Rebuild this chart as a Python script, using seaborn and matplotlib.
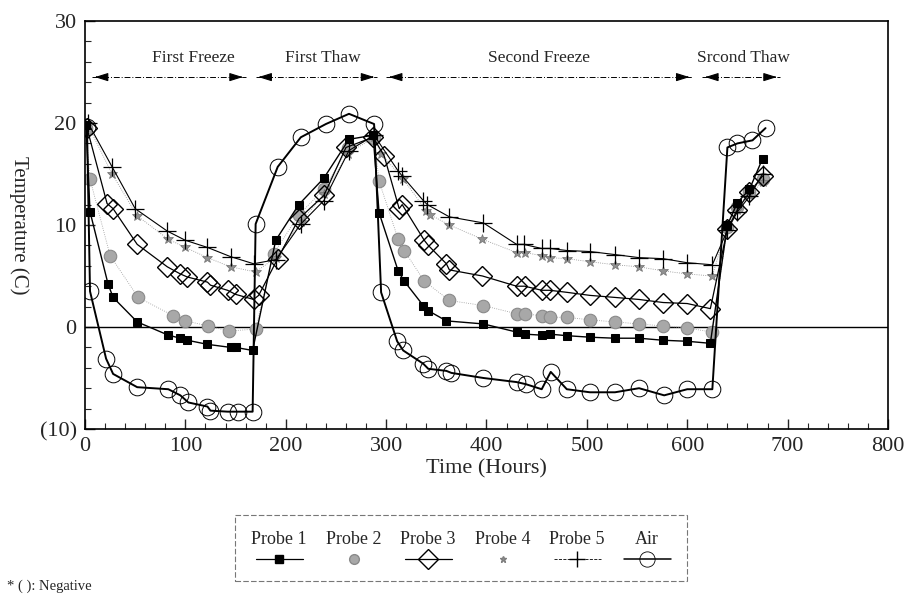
import numpy as np
import pandas as pd
import matplotlib
matplotlib.use("Agg")
import matplotlib.pyplot as plt
import seaborn as sns
from matplotlib.lines import Line2D
from matplotlib.offsetbox import VPacker
from matplotlib.ticker import MultipleLocator, FuncFormatter

# ---------------- data ----------------
probe1_x = [1, 5, 23, 28, 52, 83, 95, 102, 122, 145, 150, 167, 190, 213, 238, 263, 287, 293, 312, 318, 337, 342, 360, 397,
            430, 438, 455, 463, 480, 503, 528, 552, 576, 600, 623, 640, 650, 662, 675]
probe1_y = [19.8, 11.3, 4.2, 2.9, 0.5, -0.8, -1.1, -1.3, -1.7, -2.0, -2.0, -2.3, 8.5, 12.0, 14.6, 18.4, 18.8, 11.2, 5.5, 4.5, 2.1, 1.6, 0.6, 0.3,
            -0.5, -0.7, -0.8, -0.7, -0.85, -1.0, -1.1, -1.1, -1.3, -1.4, -1.6, 10.0, 12.2, 13.5, 16.5]

probe2_x = [1, 5, 25, 53, 88, 100, 123, 143, 170, 188, 213, 238, 262, 288, 293, 312, 318, 338, 363, 397,
            430, 438, 455, 463, 480, 503, 528, 552, 576, 600, 625, 640, 650, 662, 675]
probe2_y = [19.5, 14.5, 7.0, 2.9, 1.1, 0.6, 0.1, -0.4, -0.2, 7.2, 11.0, 13.5, 17.5, 18.5, 14.3, 8.6, 7.5, 4.5, 2.6, 2.1,
            1.3, 1.3, 1.1, 0.95, 0.95, 0.7, 0.5, 0.3, 0.1, -0.1, -0.5, 9.8, 11.8, 13.2, 14.5]

probe3_x = [2, 22, 28, 52, 82, 95, 102, 122, 125, 142, 150, 168, 173, 192, 213, 238, 260, 287, 298, 313, 316, 338, 342,
            360, 363, 396, 430, 438, 455, 463, 480, 503, 528, 552, 576, 600, 623, 640, 650, 662, 675]
probe3_y = [19.5, 12.1, 11.6, 8.1, 5.9, 5.2, 4.9, 4.4, 4.1, 3.6, 3.2, 2.7, 3.1, 6.7, 10.6, 12.9, 17.6, 18.6, 16.8, 11.6, 12.0, 8.5, 8.0,
            6.2, 5.6, 5.0, 4.0, 4.0, 3.6, 3.6, 3.4, 3.1, 2.9, 2.7, 2.4, 2.3, 1.8, 9.6, 11.5, 13.2, 14.8]

probe4_x = [3, 27, 52, 83, 100, 122, 145, 170, 190, 215, 238, 262, 288, 295, 317, 340, 344, 363, 396,
            430, 438, 455, 463, 480, 503, 528, 552, 576, 600, 625, 640, 650, 662, 675]
probe4_y = [19.8, 15.0, 10.9, 8.6, 7.8, 6.8, 5.9, 5.4, 6.8, 10.3, 13.0, 17.0, 18.6, 17.0, 14.5, 11.4, 11.0, 10.0, 8.6,
            7.3, 7.3, 7.0, 6.8, 6.7, 6.4, 6.1, 5.9, 5.5, 5.2, 5.0, 10.0, 11.5, 13.0, 14.2]

probe5_x = [3, 27, 50, 82, 100, 122, 145, 168, 190, 215, 238, 263, 288, 312, 316, 337, 341, 363, 397,
            430, 437, 455, 463, 480, 503, 528, 552, 576, 600, 625, 640, 650, 662, 675]
probe5_y = [20.0, 15.7, 11.6, 9.4, 8.5, 7.8, 6.9, 6.2, 6.6, 10.1, 12.4, 17.3, 18.8, 15.3, 14.8, 12.4, 12.0, 10.8, 10.2,
            8.1, 8.1, 7.7, 7.7, 7.5, 7.4, 7.1, 6.8, 6.7, 6.3, 6.1, 9.5, 11.3, 12.8, 15.0]

air_x = [2, 5, 21, 28, 52, 83, 95, 103, 122, 125, 142, 152, 167, 170, 192, 215, 240, 263, 288, 295, 311, 317, 337, 342,
         360, 365, 397, 430, 439, 455, 464, 480, 503, 528, 552, 577, 600, 625, 640, 650, 665, 678]
air_y = [19.6, 3.5, -3.1, -4.6, -5.9, -6.1, -6.7, -7.4, -7.8, -8.2, -8.3, -8.3, -8.3, 10.1, 15.7, 18.6, 19.9, 20.9, 19.9, 3.4, -1.4, -2.3, -3.6, -4.1,
         -4.3, -4.5, -5.0, -5.4, -5.6, -6.1, -4.4, -6.1, -6.4, -6.4, -6.0, -6.7, -6.1, -6.1, 17.6, 18.0, 18.3, 19.5]

series_names = ["Probe 1", "Probe 2", "Probe 3", "Probe 4", "Probe 5", "Air"]

phase_labels = ["First Freeze", "First Thaw", "Second Freeze", "Srcond Thaw"]
phase_start = [7, 170, 300, 615]
phase_end = [160, 291, 605, 692]
phase_text_x = [108, 237, 452, 656]

x_ticks = [0, 100, 200, 300, 400, 500, 600, 700, 800]
y_ticks = [-10, 0, 10, 20, 30]

# ---------------- figure ----------------
sns.set_style("ticks")
plt.rcParams["font.family"] = ["Liberation Serif", "DejaVu Serif"]
plt.rcParams["mathtext.fontset"] = "stix"

W, H = 909, 603
fig = plt.figure(figsize=(W / 100, H / 100), dpi=100)
ax = fig.add_axes([85 / W, 1 - 429 / H, (888 - 85) / W, (429 - 21) / H])

def frame(x, y, name):
    return pd.DataFrame({"x": x, "y": y, "s": name})

styles = {
    "Probe 1": dict(color="black", marker="s", markersize=5.5, linewidth=1.0, linestyle="-",
                    markerfacecolor="black", markeredgecolor="black"),
    "Probe 2": dict(color="#9a9a9a", marker="o", markersize=9, linewidth=0.6, linestyle=":",
                    markerfacecolor="#a8a8a8", markeredgecolor="#8a8a8a", markeredgewidth=0.8),
    "Probe 3": dict(color="black", marker="D", markersize=10, linewidth=0.9, linestyle="-",
                    markerfacecolor="none", markeredgecolor="black", markeredgewidth=1.0),
    "Probe 4": dict(color="#8c8c8c", marker="*", markersize=7, linewidth=0.6, linestyle=":",
                    markerfacecolor="#909090", markeredgecolor="#707070", markeredgewidth=0.5),
    "Probe 5": dict(color="black", marker="+", markersize=13, linewidth=0.8, linestyle="-",
                    markeredgecolor="black", markeredgewidth=0.9),
    "Air": dict(color="black", marker="o", markersize=12, linewidth=1.4, linestyle="-",
                markerfacecolor="none", markeredgecolor="black", markeredgewidth=0.7),
}

data = {
    "Probe 1": (probe1_x, probe1_y),
    "Probe 2": (probe2_x, probe2_y),
    "Probe 3": (probe3_x, probe3_y),
    "Probe 4": (probe4_x, probe4_y),
    "Probe 5": (probe5_x, probe5_y),
    "Air": (air_x, air_y),
}

for name in ["Probe 2", "Probe 4", "Probe 3", "Probe 5", "Probe 1", "Air"]:
    x, y = data[name]
    st = dict(styles[name])
    color = st.pop("color")
    ls = st.pop("linestyle")
    sns.lineplot(data=frame(x, y, name), x="x", y="y", ax=ax, color=color, linestyle=ls,
                 sort=False, estimator=None, legend=False, **st)

ax.axhline(0, color="black", linewidth=1.0, zorder=1)

ax.set_xlim(0, 800)
ax.set_ylim(-10, 30)
ax.set_xticks(x_ticks)
ax.set_yticks(y_ticks)
ax.xaxis.set_minor_locator(MultipleLocator(20))
ax.yaxis.set_minor_locator(MultipleLocator(2))
ax.yaxis.set_major_formatter(FuncFormatter(lambda v, p: f"({abs(int(v))})" if v < 0 else f"{int(v)}"))
ax.tick_params(axis="both", which="major", direction="in", length=7, width=1.0, labelsize=16, pad=6)
ax.tick_params(axis="both", which="minor", direction="in", length=4, width=0.8)
for sp in ax.spines.values():
    sp.set_visible(True)
    sp.set_linewidth(1.2)
    sp.set_color("black")

ax.set_xlabel("Time (Hours)", fontsize=16, labelpad=2)
ax.set_ylabel("Temperature (C)", fontsize=15, rotation=270, labelpad=22)

# phase annotations
for lab, s, e, tx in zip(phase_labels, phase_start, phase_end, phase_text_x):
    ax.plot([s, e], [24.5, 24.5], color="black", linewidth=0.7, linestyle=(0, (6, 2, 1, 2)))
    ax.annotate("", xy=(s, 24.5), xytext=(s + 8, 24.5),
                arrowprops=dict(arrowstyle="-|>,head_length=0.8,head_width=0.25", color="black", lw=0.8))
    ax.annotate("", xy=(e, 24.5), xytext=(e - 8, 24.5),
                arrowprops=dict(arrowstyle="-|>,head_length=0.8,head_width=0.25", color="black", lw=0.8))
    ax.text(tx, 26.4, lab, ha="center", va="center", fontsize=12.5)

# legend: labels above handles
handles = [
    Line2D([], [], color="black", marker="s", markersize=5.5, linewidth=0.9),
    Line2D([], [], color="none", marker="o", markersize=7, markerfacecolor="#a8a8a8", markeredgecolor="#8a8a8a"),
    Line2D([], [], color="black", marker="D", markersize=10, linewidth=0.9, markerfacecolor="none"),
    Line2D([], [], color="none", marker="*", markersize=5, markerfacecolor="#909090", markeredgecolor="#808080"),
    Line2D([], [], color="black", marker="+", markersize=12, linewidth=0.6, linestyle="--"),
    Line2D([], [], color="black", marker="o", markersize=11, linewidth=1.1, markerfacecolor="none", markeredgewidth=0.6),
]
leg = fig.legend(handles, series_names, ncol=6, loc="center", bbox_to_anchor=(461 / W, 1 - 548 / H),
                 fontsize=13, frameon=True, fancybox=False, handlelength=2.6, columnspacing=1.05,
                 borderpad=0.9, edgecolor="#555555")
leg.get_frame().set_linestyle((0, (5, 2)))
leg.get_frame().set_linewidth(0.8)
for col in leg._legend_handle_box.get_children():
    new_items = []
    for item in col.get_children():
        hb, tb = item.get_children()
        new_items.append(VPacker(pad=0, sep=3, align="center", children=[tb, hb]))
    col._children = new_items
    col.align = "center"

fig.text(7 / W, 1 - 586 / H, "* ( ): Negative", fontsize=10.5, ha="left", va="center")

fig.savefig("out.png", dpi=100)
